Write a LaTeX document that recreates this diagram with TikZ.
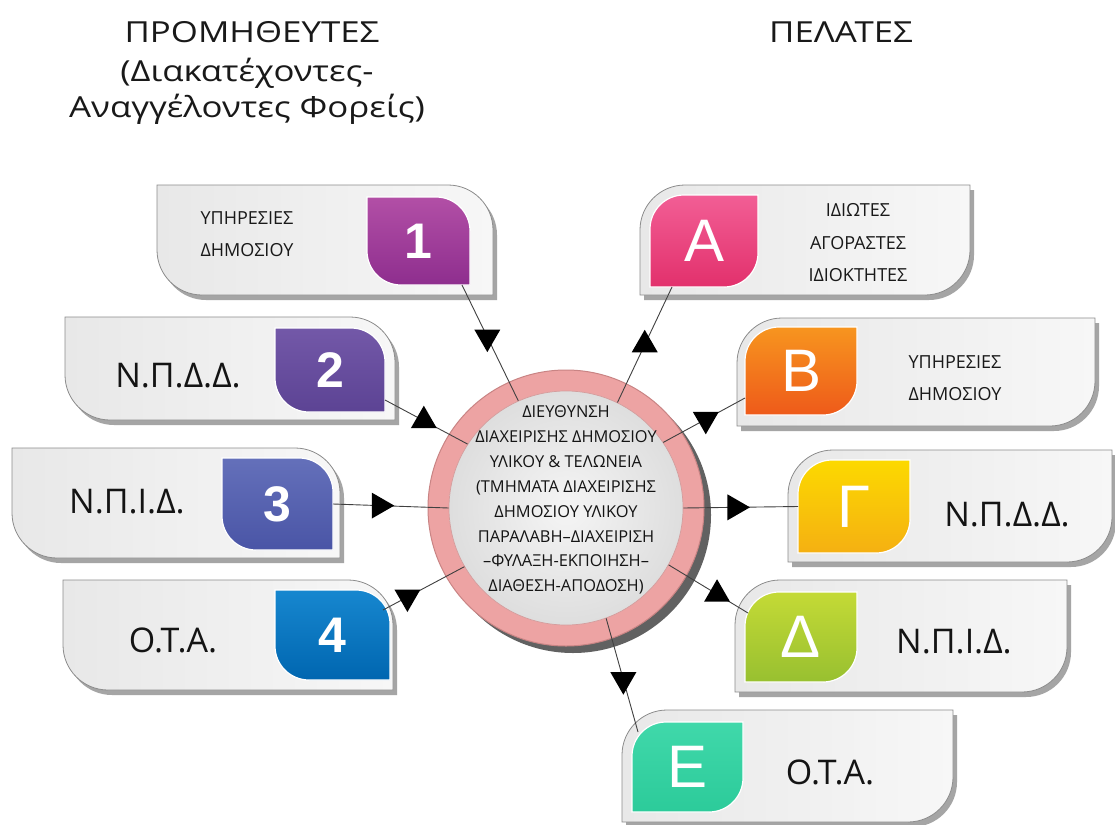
\documentclass[tikz,border=0pt]{standalone}
\usepackage{fontspec}
\setmainfont{Open Sans}
\newfontfamily\titlefont[FakeStretch=1.2]{Open Sans}
\newfontfamily\digitfont{Liberation Sans}
\usetikzlibrary{shapes.geometric,shadows}

\definecolor{boxL}{HTML}{E8E8E8}
\definecolor{boxR}{HTML}{F7F7F7}
\definecolor{boxline}{HTML}{8C8C8C}
\definecolor{ringpink}{HTML}{EDA3A3}
\definecolor{ringedge}{HTML}{C98484}
\definecolor{c1t}{HTML}{B24FA6}\definecolor{c1b}{HTML}{8E2E8E}
\definecolor{c2t}{HTML}{7358A8}\definecolor{c2b}{HTML}{5C4394}
\definecolor{c3t}{HTML}{6470BA}\definecolor{c3b}{HTML}{4A55A6}
\definecolor{c4t}{HTML}{1787CF}\definecolor{c4b}{HTML}{0066B0}
\definecolor{cAt}{HTML}{F25E95}\definecolor{cAb}{HTML}{E2306C}
\definecolor{cBt}{HTML}{F7951F}\definecolor{cBb}{HTML}{EE5A1A}
\definecolor{cGt}{HTML}{FCD900}\definecolor{cGb}{HTML}{F5B012}
\definecolor{cDt}{HTML}{C4DA36}\definecolor{cDb}{HTML}{98C030}
\definecolor{cEt}{HTML}{40D8AA}\definecolor{cEb}{HTML}{2CCB9A}

% leaf: rounded top-right and bottom-left
\newcommand\leafL[3]{%
 \path[#3] (#1.north west) -- ([xshift=-#2pt]#1.north east)
   .. controls ([xshift=-0.448*#2pt]#1.north east) and ([yshift=-0.448*#2pt]#1.north east) .. ([yshift=-#2pt]#1.north east)
   -- (#1.south east) -- ([xshift=#2pt]#1.south west)
   .. controls ([xshift=0.448*#2pt]#1.south west) and ([yshift=0.448*#2pt]#1.south west) .. ([yshift=#2pt]#1.south west)
   -- cycle;}
% leaf: rounded top-left and bottom-right
\newcommand\leafR[3]{%
 \path[#3] ([xshift=#2pt]#1.north west) -- (#1.north east) -- ([yshift=#2pt]#1.south east)
   .. controls ([yshift=0.448*#2pt]#1.south east) and ([xshift=-0.448*#2pt]#1.south east) .. ([xshift=-#2pt]#1.south east)
   -- (#1.south west) -- ([yshift=-#2pt]#1.north west)
   .. controls ([yshift=-0.448*#2pt]#1.north west) and ([xshift=0.448*#2pt]#1.north west) .. ([xshift=#2pt]#1.north west)
   -- cycle;}

\begin{document}
\begin{tikzpicture}[x=1pt,y=-1pt,
  frame/.style={rectangle, inner sep=0pt, outer sep=0pt},
  gbox/.style={left color=boxL, right color=boxR, draw=boxline, line width=0.8pt,
    drop shadow={shadow xshift=4pt, shadow yshift=-5pt, opacity=0.5, fill=black!70}},
  sqs/.style={draw=white, line width=1.2pt},
  txt/.style={inner sep=0pt, align=center, text=black!90, font=\fontsize{18}{32}\selectfont},
  big/.style={inner sep=0pt, text=black!92, font=\fontsize{34}{38}\selectfont},
  digit/.style={inner sep=0pt, text=white, font=\digitfont\bfseries\fontsize{50}{50}\selectfont},
  letter/.style={inner sep=0pt, text=white, font=\digitfont\fontsize{60}{60}\selectfont},
  title/.style={inner sep=0pt, align=center, text=black!90, font=\titlefont\fontsize{29}{36}\selectfont},
  conn/.style={draw=black!75, line width=0.9pt},
  tri/.style={regular polygon, regular polygon sides=3, fill=black, inner sep=0pt, minimum size=30pt}
]
\useasboundingbox (0,0) rectangle (1115,824);
\fill[white] (0,0) rectangle (1115,824);

% titles
\node[title] (tprom) at (252,32) {ΠΡΟΜΗΘΕΥΤΕΣ};
\node[title] (tdiak) at (247,91) {(Διακατέχοντες-\\Αναγγέλοντες Φορείς)};
\node[title] (tpel) at (841,32) {ΠΕΛΑΤΕΣ};

% frames of gray boxes
\node[frame, minimum width=336pt, minimum height=110pt] (b1) at (325,240) {};
\node[frame, minimum width=330pt, minimum height=103pt] (b2) at (230,368.5) {};
\node[frame, minimum width=328pt, minimum height=110pt] (b3) at (176,503) {};
\node[frame, minimum width=330pt, minimum height=110pt] (b4) at (228,635) {};
\node[frame, minimum width=330pt, minimum height=110pt] (bA) at (805,240) {};
\node[frame, minimum width=358pt, minimum height=108pt] (bB) at (916,372) {};
\node[frame, minimum width=324pt, minimum height=112pt] (bG) at (950,506) {};
\node[frame, minimum width=332pt, minimum height=112pt] (bD) at (901,636) {};
\node[frame, minimum width=331pt, minimum height=112pt] (bE) at (787.5,766) {};

\leafL{b1}{45}{gbox}
\leafL{b2}{45}{gbox}
\leafL{b3}{45}{gbox}
\leafL{b4}{45}{gbox}
\leafR{bA}{45}{gbox}
\leafR{bB}{45}{gbox}
\leafR{bG}{45}{gbox}
\leafR{bD}{45}{gbox}
\leafR{bE}{45}{gbox}

% coloured squares
\node[frame, minimum width=103pt, minimum height=88pt] (s1) at (418.5,241) {};
\node[frame, minimum width=110pt, minimum height=84pt] (s2) at (330,370) {};
\node[frame, minimum width=111pt, minimum height=92pt] (s3) at (277.5,504) {};
\node[frame, minimum width=115pt, minimum height=90pt] (s4) at (332.5,635) {};
\node[frame, minimum width=108pt, minimum height=92pt] (sA) at (704,241) {};
\node[frame, minimum width=112pt, minimum height=88pt] (sB) at (801,371) {};
\node[frame, minimum width=112pt, minimum height=93pt] (sG) at (854,506.5) {};
\node[frame, minimum width=112pt, minimum height=90pt] (sD) at (801,637) {};
\node[frame, minimum width=111pt, minimum height=90pt] (sE) at (687.5,767) {};

\leafL{s1}{34}{sqs, top color=c1t, bottom color=c1b}
\leafL{s2}{34}{sqs, top color=c2t, bottom color=c2b}
\leafL{s3}{34}{sqs, top color=c3t, bottom color=c3b}
\leafL{s4}{34}{sqs, top color=c4t, bottom color=c4b}
\leafR{sA}{34}{sqs, top color=cAt, bottom color=cAb}
\leafR{sB}{34}{sqs, top color=cBt, bottom color=cBb}
\leafR{sG}{34}{sqs, top color=cGt, bottom color=cGb}
\leafR{sD}{34}{sqs, top color=cDt, bottom color=cDb}
\leafR{sE}{34}{sqs, top color=cEt, bottom color=cEb}

\node[digit] (n1) at (s1) {1};
\node[digit] (n2) at (s2) {2};
\node[digit] (n3) at (s3) {3};
\node[digit] (n4) at (s4) {4};
\node[letter] (nA) at (sA) {Α};
\node[letter] (nB) at (sB) {Β};
\node[letter] (nG) at (sG) {Γ};
\node[letter] (nD) at (sD) {Δ};
\node[letter] (nE) at (sE) {Ε};

% box texts
\node[txt] (t1) at (247,234) {ΥΠΗΡΕΣΙΕΣ\\ΔΗΜΟΣΙΟΥ};
\node[big] (t2) at (178,376) {Ν.Π.Δ.Δ.};
\node[big] (t3) at (127,502) {Ν.Π.Ι.Δ.};
\node[big] (t4) at (173,640) {Ο.Τ.Α.};
\node[txt, font=\fontsize{18}{32.5}\selectfont] (tA) at (858,243) {ΙΔΙΩΤΕΣ\\ΑΓΟΡΑΣΤΕΣ\\ΙΔΙΟΚΤΗΤΕΣ};
\node[txt] (tB) at (955,378) {ΥΠΗΡΕΣΙΕΣ\\ΔΗΜΟΣΙΟΥ};
\node[big] (tG) at (1007,515) {Ν.Π.Δ.Δ.};
\node[big] (tD) at (954,642) {Ν.Π.Ι.Δ.};
\node[big] (tE) at (830,772) {Ο.Τ.Α.};

% central circle
\node[circle, minimum size=276pt, inner sep=0pt, fill=black!62] (cshadow) at (573,515) {};
\node[circle, minimum size=276pt, inner sep=0pt, fill=ringpink, draw=ringedge, line width=1pt] (ring) at (566,508) {};
\node[circle, minimum size=234pt, inner sep=0pt, inner color=white!96!black, outer color=black!13, draw=ringedge!80, line width=0.7pt] (inner) at (566,508) {};
\node[inner sep=0pt, align=center, text=black!92, font=\fontsize{16.4}{24.9}\selectfont] (ctext) at (566,500)
 {ΔΙΕΥΘΥΝΣΗ\\ΔΙΑΧΕΙΡΙΣΗΣ ΔΗΜΟΣΙΟΥ\\ΥΛΙΚΟΥ \& ΤΕΛΩΝΕΙΑ\\(ΤΜΗΜΑΤΑ ΔΙΑΧΕΙΡΙΣΗΣ\\ΔΗΜΟΣΙΟΥ ΥΛΙΚΟΥ\\ΠΑΡΑΛΑΒΗ–ΔΙΑΧΕΙΡΙΣΗ\\–ΦΥΛΑΞΗ-ΕΚΠΟΙΗΣΗ–\\ΔΙΑΘΕΣΗ-ΑΠΟΔΟΣΗ)};

% connectors
\draw[conn] ([xshift=-8pt]s1.south east) -- (inner.114) node[tri, pos=0.45, shape border rotate=180] (a1) {};
\draw[conn] ([yshift=-30pt]s2.east) -- (inner.147) node[tri, pos=0.47] (a2) {};
\draw[conn] (s3.east) -- (inner.180) node[tri, pos=0.4, shape border rotate=-90] (a3) {};
\draw[conn] ([xshift=-7pt,yshift=-20pt]s4.north east) -- (inner.210) node[tri, pos=0.3, shape border rotate=180] (a4) {};
\draw[conn] (inner.64) -- ([xshift=22pt]sA.south west) node[tri, pos=0.5] (aA) {};
\draw[conn] (inner.34) -- ([yshift=-27pt]sB.west) node[tri, pos=0.52, shape border rotate=180] (aB) {};
\draw[conn] (inner.0) -- (sG.west) node[tri, pos=0.45, shape border rotate=-90] (aG) {};
\draw[conn] (inner.-29) -- ([xshift=3pt,yshift=-21pt]sD.north west) node[tri, pos=0.61] (aD) {};
\draw[conn] (inner.-70) -- ([xshift=6pt,yshift=-10pt]sE.north west) node[tri, pos=0.54, shape border rotate=180] (aE) {};
\end{tikzpicture}
\end{document}
